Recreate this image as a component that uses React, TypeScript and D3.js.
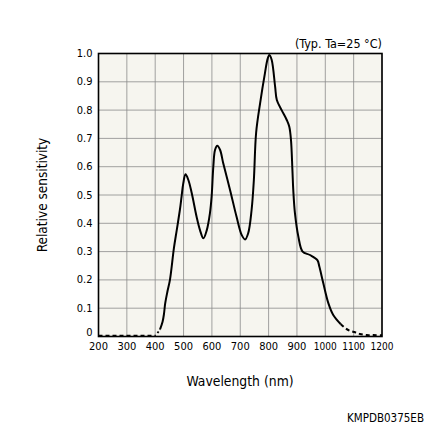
import React from "react";
import * as d3 from "d3";

const xTicks = [200, 300, 400, 500, 600, 700, 800, 900, 1000, 1100, 1200];
const yTicks = [0, 0.1, 0.2, 0.3, 0.4, 0.5, 0.6, 0.7, 0.8, 0.9, 1.0];
const yTickLabels = ["0", "0.1", "0.2", "0.3", "0.4", "0.5", "0.6", "0.7", "0.8", "0.9", "1.0"];

// solid portion of the curve
const solidWl = [417, 426, 431, 435, 443, 452, 466, 476, 487, 493, 499, 507, 517, 529, 546, 558, 570, 582, 593, 599, 605, 611, 619, 629, 640, 664, 687, 705, 717, 728, 740, 748, 756, 770, 787, 797, 803, 811, 823, 829, 846, 864, 873, 879, 884, 887, 893, 905, 920, 946, 972, 979, 993, 1011, 1028, 1054];
const solidVal = [0.025, 0.052, 0.08, 0.115, 0.158, 0.2, 0.312, 0.376, 0.447, 0.494, 0.541, 0.573, 0.553, 0.506, 0.423, 0.376, 0.347, 0.376, 0.435, 0.494, 0.6, 0.659, 0.674, 0.659, 0.612, 0.518, 0.423, 0.359, 0.343, 0.365, 0.447, 0.553, 0.72, 0.824, 0.93, 0.983, 0.995, 0.977, 0.883, 0.836, 0.8, 0.765, 0.741, 0.694, 0.588, 0.518, 0.435, 0.353, 0.3, 0.288, 0.27, 0.247, 0.188, 0.117, 0.076, 0.044];

// dashed lead-in and tail
const leadWl = [200, 402];
const leadVal = [0.003, 0.003];
const dotWl = [408, 417];
const dotVal = [0.012, 0.025];
const tailWl = [1054, 1070, 1087, 1105, 1122, 1146, 1169, 1200];
const tailVal = [0.044, 0.03, 0.02, 0.015, 0.009, 0.005, 0.005, 0.004];

const W = 428;
const H = 428;
const left = 98.5;
const right = 382;
const top = 53.5;
const bottom = 336.5;

export default function App() {
  const x = d3.scaleLinear().domain([200, 1200]).range([left, right]);
  const y = d3.scaleLinear().domain([0, 1]).range([bottom, top]);
  const line = d3
    .line<[number, number]>()
    .x((d) => x(d[0]))
    .y((d) => y(d[1]))
    .curve(d3.curveCatmullRom.alpha(0.5));
  const pts = (a: number[], b: number[]) => a.map((v, i) => [v, b[i]] as [number, number]);
  const font = "'DejaVu Sans Condensed', 'DejaVu Sans', sans-serif";

  return (
    <svg
      width={W}
      height={H}
      style={{ position: "absolute", left: 0, top: 0, background: "#fff" }}
      fontFamily={font}
    >
      <rect x={left} y={top} width={right - left} height={bottom - top} fill="#f6f5ef" />
      {xTicks.map((t) => (
        <line key={"gx" + t} x1={x(t)} x2={x(t)} y1={top} y2={bottom} stroke="#8a8a8a" strokeWidth={0.8} />
      ))}
      {yTicks.map((t) => (
        <line key={"gy" + t} x1={left} x2={right} y1={y(t)} y2={y(t)} stroke="#8a8a8a" strokeWidth={0.8} />
      ))}
      <path d={line(pts(leadWl, leadVal)) || ""} fill="none" stroke="#000" strokeWidth={1.8} strokeDasharray="4,3" />
      <path d={line(pts(dotWl, dotVal)) || ""} fill="none" stroke="#000" strokeWidth={1.8} strokeDasharray="2,2" />
      <path d={line(pts(solidWl, solidVal)) || ""} fill="none" stroke="#000" strokeWidth={2} strokeLinejoin="round" />
      <path d={line(pts(tailWl, tailVal)) || ""} fill="none" stroke="#000" strokeWidth={2} strokeDasharray="4,3" />
      <rect x={left} y={top} width={right - left} height={bottom - top} fill="none" stroke="#000" strokeWidth={1.6} />
      {yTicks.map((t, i) => (
        <text
          key={"yl" + t}
          x={left - 6}
          y={t === 0 ? y(t) - 4 : y(t)}
          textAnchor="end"
          dominantBaseline="central"
          fontSize={11}
          fill="#000"
        >
          {yTickLabels[i]}
        </text>
      ))}
      {xTicks.map((t) => (
        <text
          key={"xl" + t}
          x={x(t)}
          y={bottom + 10}
          textAnchor="middle"
          dominantBaseline="central"
          fontSize={t >= 1000 ? 10 : 11}
          fill="#000"
        >
          {t}
        </text>
      ))}
      <text x={right} y={top - 6} textAnchor="end" fontSize={12.5} fill="#000">
        (Typ. Ta=25 °C)
      </text>
      <text x={240} y={386} textAnchor="middle" fontSize={13.8} fill="#000">
        Wavelength (nm)
      </text>
      <text
        transform={`translate(47, ${(top + bottom) / 2}) rotate(-90)`}
        textAnchor="middle"
        fontSize={13.5}
        fill="#000"
      >
        Relative sensitivity
      </text>
      <text x={424} y={422} textAnchor="end" fontSize={11.5} fill="#000">
        KMPDB0375EB
      </text>
    </svg>
  );
}
